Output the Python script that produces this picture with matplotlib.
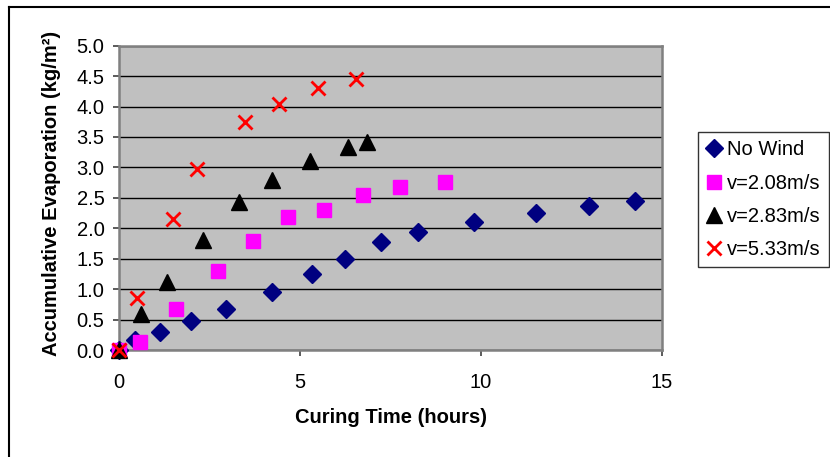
import matplotlib.pyplot as plt
from matplotlib.lines import Line2D

plt.rcParams['font.family'] = ['Liberation Sans', 'DejaVu Sans']

# Data
t_nowind = [0, 0.45, 1.14, 2.0, 2.96, 4.24, 5.32, 6.24, 7.24, 8.25, 9.81, 11.51, 12.99, 14.25]
e_nowind = [0, 0.16, 0.30, 0.47, 0.68, 0.95, 1.25, 1.50, 1.77, 1.94, 2.10, 2.25, 2.37, 2.45]

t_v208 = [0, 0.58, 1.58, 2.74, 3.71, 4.67, 5.65, 6.74, 7.75, 9.0]
e_v208 = [0, 0.13, 0.68, 1.30, 1.79, 2.18, 2.30, 2.54, 2.68, 2.76]

t_v283 = [0, 0.62, 1.32, 2.31, 3.32, 4.23, 5.27, 6.33, 6.86]
e_v283 = [0, 0.59, 1.11, 1.81, 2.43, 2.80, 3.11, 3.33, 3.41]

t_v533 = [0, 0.49, 1.50, 2.16, 3.49, 4.41, 5.50, 6.56]
e_v533 = [0, 0.85, 2.16, 2.98, 3.75, 4.04, 4.30, 4.45]

labels = ['No Wind', 'v=2.08m/s', 'v=2.83m/s', 'v=5.33m/s']
x_ticks = [0, 5, 10, 15]
y_ticks = [0.0, 0.5, 1.0, 1.5, 2.0, 2.5, 3.0, 3.5, 4.0, 4.5, 5.0]

W, H = 830, 457
fig = plt.figure(figsize=(W / 100, H / 100), dpi=100)
ax = fig.add_axes([119 / W, 1 - 350 / H, 543 / W, 304.3 / H])
ax.set_facecolor('#C0C0C0')

# Series
ax.plot(t_nowind, e_nowind, 'D', color='#000080', ms=9.5, mec='#000080',
        label=labels[0], clip_on=False, zorder=3)
ax.plot(t_v208, e_v208, 's', color='#FF00FF', ms=10.5, mec='#FF00FF',
        label=labels[1], clip_on=False, zorder=3)
ax.plot(t_v283, e_v283, '^', color='black', ms=11, mec='black',
        label=labels[2], clip_on=False, zorder=3)
ax.plot(t_v533, e_v533, 'x', color='#FF0000', ms=10, mew=2,
        label=labels[3], clip_on=False, zorder=3)

ax.set_xlim(0, 15)
ax.set_ylim(0, 5)
ax.set_xticks(x_ticks)
ax.set_yticks(y_ticks)
ax.set_yticklabels(['%.1f' % v for v in y_ticks])

# Horizontal gridlines
ax.yaxis.grid(True, color='black', lw=1.0)
ax.set_axisbelow(True)

for sp in ax.spines.values():
    sp.set_color('#808080')
    sp.set_linewidth(1.8)

ax.tick_params(axis='both', direction='out', length=4.5, width=1.2,
               color='#404040', labelsize=14.5)
ax.tick_params(axis='x', pad=12)
ax.tick_params(axis='y', pad=6)

ax.set_xlabel('Curing Time (hours)', fontsize=14.5, fontweight='bold')
ax.xaxis.set_label_coords(0.5, -0.19)
ax.set_ylabel('Accumulative Evaporation (kg/m²)', fontsize=14.5, fontweight='bold')
ax.yaxis.set_label_coords(-0.107, 0.515)

leg = fig.legend(loc='upper left', bbox_to_anchor=(698 / W, 1 - 132 / H),
                 fontsize=14.5, frameon=True, fancybox=False, edgecolor='black',
                 handlelength=0.7, handletextpad=0.3, labelspacing=0.7,
                 borderpad=0.42, borderaxespad=0)
leg.get_frame().set_linewidth(1.0)

# Outer chart frame (top and left visible)
fig.add_artist(Line2D([9 / W, 9 / W], [0, 1 - 7 / H], color='black', lw=1.5,
                      transform=fig.transFigure))
fig.add_artist(Line2D([9 / W, 1], [1 - 7 / H, 1 - 7 / H], color='black', lw=1.5,
                      transform=fig.transFigure))

fig.savefig('out.png', dpi=100)
